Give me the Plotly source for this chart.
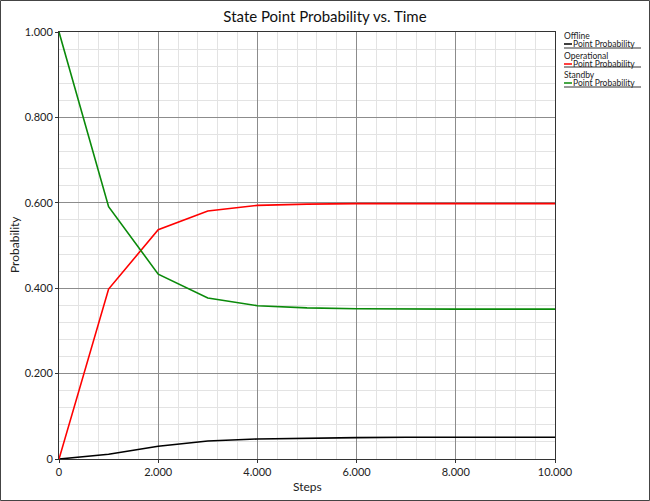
import plotly.graph_objects as go

# state probabilities, one point every 1,000 steps
steps = [0, 1000, 2000, 3000, 4000, 5000, 6000, 7000, 8000, 9000, 10000]
offline = [0, 0.011, 0.030, 0.042, 0.047, 0.049, 0.050, 0.051, 0.051, 0.051, 0.051]
operational = [0, 0.398, 0.537, 0.581, 0.594, 0.597, 0.598, 0.598, 0.598, 0.598, 0.598]
standby = [1, 0.591, 0.433, 0.377, 0.359, 0.354, 0.352, 0.351, 0.351, 0.351, 0.351]

states = ["Offline", "Operational", "Standby"]
colors = ["#000000", "#ff0000", "#0a8a0a"]
series = [offline, operational, standby]

x_ticks = [0, 2000, 4000, 6000, 8000, 10000]
x_labels = ["0", "2.000", "4.000", "6.000", "8.000", "10.000"]
y_ticks = [0, 0.2, 0.4, 0.6, 0.8, 1.0]
y_labels = ["0", "0.200", "0.400", "0.600", "0.800", "1.000"]

W, H = 650, 501
L, R, T, B = 59, 95, 32, 42
pw, ph = W - L - R, H - T - B

FONT = "Lato, Tahoma, sans-serif"

fig = go.Figure()
for name, col, vals in zip(states, colors, series):
    fig.add_trace(go.Scatter(x=steps, y=vals, mode="lines", name=name,
                             line=dict(color=col, width=1.6), showlegend=False))

axis_common = dict(
    automargin=False,
    showline=True, linecolor="#333333", linewidth=1, mirror=True,
    ticks="outside", ticklen=3, tickcolor="#333333",
    gridcolor="#8c8c8c", gridwidth=1, zeroline=False,
    tickfont=dict(size=11, color="#222222", family=FONT),
)
fig.update_xaxes(range=[0, 10000], tickvals=x_ticks, ticktext=x_labels,
                 minor=dict(dtick=400, showgrid=True, gridcolor="#e3e3e3"),
                 **axis_common)
fig.update_yaxes(range=[0, 1], tickvals=y_ticks, ticktext=y_labels,
                 minor=dict(dtick=0.04, showgrid=True, gridcolor="#e3e3e3"),
                 **axis_common)


def px(x):
    return (x - L) / pw


def py(y):
    return 1 - (y - T) / ph


shapes = [dict(type="rect", xref="paper", yref="paper",
               x0=px(0.5), x1=px(W - 0.5), y0=py(H - 0.5), y1=py(0.5),
               line=dict(color="#444444", width=1), layer="above")]

title_font = dict(size=12, family=FONT, color="#222")
annotations = [
    dict(xref="paper", yref="paper", x=px(307), y=py(486), text="Steps",
         showarrow=False, xanchor="center", yanchor="middle", font=title_font),
    dict(xref="paper", yref="paper", x=px(14), y=py(245), text="Probability",
         showarrow=False, xanchor="center", yanchor="middle", textangle=-90,
         font=title_font),
]
# hand-built legend: state heading, line sample + "Point Probability", underline
legend_rows = [(36, 44, 48), (56, 64, 67), (75, 83, 87)]
for (ty, sy, uy), name, col in zip(legend_rows, states, colors):
    annotations.append(dict(xref="paper", yref="paper", x=px(563), y=py(ty),
                            text=name, showarrow=False, xanchor="left", yanchor="middle",
                            borderpad=0, font=dict(size=8.5, family=FONT, color="#222")))
    annotations.append(dict(xref="paper", yref="paper", x=px(572), y=py(sy),
                            text="Point Probability", showarrow=False, xanchor="left",
                            yanchor="middle", borderpad=0,
                            font=dict(size=8.5, family=FONT, color="#222")))
    shapes.append(dict(type="line", xref="paper", yref="paper", x0=px(564), x1=px(572),
                       y0=py(sy), y1=py(sy), line=dict(color=col, width=1.5)))
    shapes.append(dict(type="line", xref="paper", yref="paper", x0=px(564), x1=px(641),
                       y0=py(uy), y1=py(uy), line=dict(color="#333", width=1)))

fig.update_layout(
    width=W, height=H,
    margin=dict(l=L, r=R, t=T, b=B, autoexpand=False),
    paper_bgcolor="white", plot_bgcolor="white",
    title=dict(text="State Point Probability vs. Time", x=px(307), xanchor="center",
               y=1 - 17 / H, yanchor="middle",
               font=dict(size=15, family=FONT, color="#111")),
    shapes=shapes, annotations=annotations,
    font=dict(family=FONT),
)

# drop the page's default body margin so the figure sits at the window corner
fig.write_html("out.html", config={"displayModeBar": False},
               post_script="document.body.style.margin='0';")
